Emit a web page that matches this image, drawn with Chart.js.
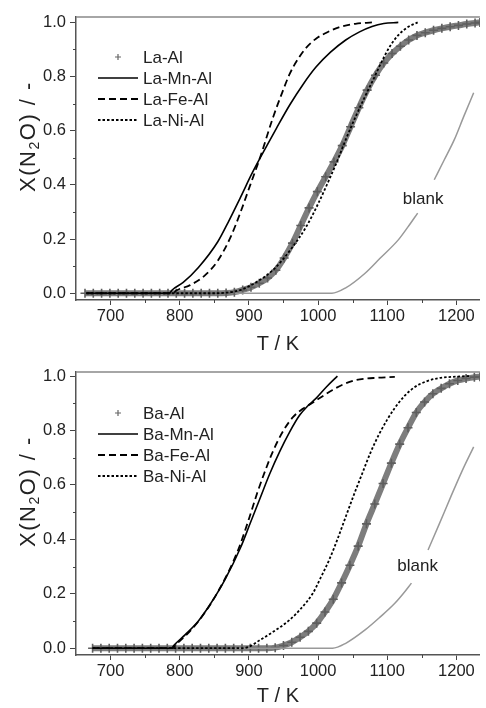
<!DOCTYPE html>
<html>
<head>
<meta charset="utf-8">
<script src="https://cdn.jsdelivr.net/npm/chart.js@4.4.0/dist/chart.umd.min.js"></script>
<style>
  body { margin: 0; background: #fff; }
  canvas { display: block; }
</style>
</head>
<body>
<canvas id="topChart" width="486" height="356"></canvas>
<canvas id="bottomChart" width="486" height="352"></canvas>
<script>
// ============================================
// DATA
// ============================================

// axis ticks
const xTicks = [700, 800, 900, 1000, 1100, 1200];
const xMinor = [750, 850, 950, 1050, 1150];
const yTicks = [0.0, 0.2, 0.4, 0.6, 0.8, 1.0];
const yMinor = [0.1, 0.3, 0.5, 0.7, 0.9];

// --- top panel: La catalysts ---
const laAlT = [663, 675, 687, 699, 711, 723, 735, 747, 759, 771, 783, 795, 807, 819, 831, 843, 855,
  867, 879, 891, 903, 915, 927, 939, 951, 963, 975, 987, 999, 1011, 1023, 1035, 1047, 1059, 1071,
  1083, 1095, 1107, 1119, 1131, 1143, 1155, 1167, 1179, 1191, 1203, 1215, 1227, 1234];
const laAlX = [0, 0, 0, 0, 0, 0, 0, 0, 0, 0, 0, 0, 0, 0, 0, 0, 0,
  0.001, 0.004, 0.012, 0.022, 0.037, 0.056, 0.085, 0.13, 0.185, 0.25, 0.315, 0.375, 0.43, 0.485, 0.545,
  0.615, 0.685, 0.75, 0.805, 0.85, 0.885, 0.912, 0.935, 0.952, 0.962, 0.971, 0.978, 0.984, 0.989,
  0.994, 0.998, 1.0];

const laMnT = [665, 785, 789, 805, 827, 855, 870, 888, 905, 926, 940, 959, 978, 997, 1018, 1040, 1060, 1078, 1095, 1116];
const laMnX = [0, 0, 0.012, 0.04, 0.095, 0.19, 0.262, 0.355, 0.445, 0.545, 0.61, 0.695, 0.77, 0.835, 0.89, 0.935, 0.965, 0.985, 0.996, 1.0];

const laFeT = [665, 790, 795, 815, 836, 855, 874, 888, 902, 916, 935, 948, 959, 971, 983, 997, 1012, 1030, 1054, 1078];
const laFeX = [0, 0, 0.01, 0.03, 0.065, 0.12, 0.21, 0.30, 0.40, 0.50, 0.65, 0.74, 0.81, 0.865, 0.907, 0.94, 0.962, 0.982, 0.995, 1.0];

const laNiT = [665, 850, 870, 888, 910, 935, 960, 983, 1000, 1016, 1028, 1040, 1054, 1068, 1080, 1092, 1104, 1116, 1130, 1144];
const laNiX = [0, 0, 0.003, 0.012, 0.04, 0.086, 0.16, 0.246, 0.33, 0.419, 0.49, 0.567, 0.65, 0.727, 0.79, 0.855, 0.912, 0.953, 0.983, 1.0];

const laBlankT = [880, 1020, 1040, 1068, 1090, 1116, 1130, 1144, 1156, 1168, 1182, 1197, 1211, 1225];
const laBlankX = [0, 0, 0.02, 0.074, 0.13, 0.197, 0.245, 0.296, null, 0.419, 0.49, 0.567, 0.655, 0.74];

// --- bottom panel: Ba catalysts ---
const baAlT = [674, 686, 698, 710, 722, 734, 746, 758, 770, 782, 794, 806, 818, 830, 842, 854, 866,
  878, 890, 902, 914, 926, 938, 950, 962, 974, 986, 998, 1010, 1022, 1034, 1046, 1058, 1070, 1082,
  1094, 1106, 1118, 1130, 1142, 1154, 1166, 1178, 1190, 1202, 1214, 1226, 1234];
const baAlX = [0, 0, 0, 0, 0, 0, 0, 0, 0, 0, 0, 0, 0, 0, 0, 0, 0,
  0, 0, 0, 0, 0, 0.002, 0.01, 0.022, 0.04, 0.062, 0.092, 0.133, 0.18, 0.24, 0.305, 0.375, 0.457,
  0.53, 0.605, 0.68, 0.75, 0.81, 0.866, 0.905, 0.935, 0.955, 0.972, 0.984, 0.991, 0.996, 0.998];

const baMnT = [674, 788, 792, 808, 827, 845, 865, 888, 902, 916, 930, 945, 959, 973, 985, 997, 1012, 1028];
const baMnX = [0, 0, 0.012, 0.05, 0.10, 0.165, 0.25, 0.37, 0.46, 0.55, 0.64, 0.725, 0.795, 0.855, 0.89, 0.918, 0.96, 1.0];

const baFeT = [674, 790, 794, 810, 828, 846, 866, 878, 888, 900, 912, 924, 935, 950, 964, 978, 992, 1006, 1021, 1037, 1054, 1080, 1111];
const baFeX = [0, 0, 0.012, 0.05, 0.102, 0.168, 0.258, 0.322, 0.385, 0.475, 0.57, 0.655, 0.725, 0.80, 0.85, 0.88, 0.902, 0.925, 0.949, 0.97, 0.985, 0.993, 0.997];

const baNiT = [674, 890, 900, 916, 935, 959, 975, 992, 1004, 1016, 1028, 1040, 1052, 1064, 1076, 1088, 1100, 1111, 1125, 1140, 1156, 1173, 1200, 1220];
const baNiX = [0, 0, 0.005, 0.03, 0.06, 0.104, 0.145, 0.20, 0.26, 0.324, 0.40, 0.483, 0.565, 0.643, 0.72, 0.785, 0.84, 0.883, 0.927, 0.96, 0.98, 0.992, 0.998, 1.0];

const baBlankT = [880, 1021, 1040, 1068, 1090, 1111, 1123, 1135, 1147, 1159, 1175, 1192, 1208, 1225];
const baBlankX = [0, 0, 0.018, 0.067, 0.115, 0.165, 0.2, 0.239, null, 0.361, 0.455, 0.557, 0.65, 0.74];

// ============================================
// HELPERS
// ============================================

const FONT = '"Liberation Sans", Arial, sans-serif';
const INK = '#222';

function pts(ts, xs) {
    return ts.map((t, i) => ({ x: t, y: xs[i] }));
}

function markerSet(label, ts, xs) {
    return {
        label: label, data: pts(ts, xs), kind: 'marker', order: 5,
        borderColor: '#7d7d7d', borderWidth: 6,
        pointStyle: 'cross', pointRadius: 4.5, pointBorderWidth: 1.6,
        pointBorderColor: '#5e5e5e', pointBackgroundColor: '#5e5e5e',
        cubicInterpolationMode: 'monotone'
    };
}

function lineSet(label, ts, xs, dash, width, order) {
    return {
        label: label, data: pts(ts, xs), kind: 'line', order: order,
        borderColor: '#000', borderWidth: width, borderDash: dash,
        pointRadius: 0, cubicInterpolationMode: 'monotone'
    };
}

function blankSet(ts, xs) {
    return {
        label: 'blank', data: pts(ts, xs), kind: 'blank', order: 4,
        borderColor: '#999', borderWidth: 1.5, pointRadius: 0,
        cubicInterpolationMode: 'monotone', spanGaps: false
    };
}

// Extra drawing: top frame, minor ticks, y title, legend, "blank" label
const decor = {
    id: 'decor',
    afterDraw(chart, args, opts) {
        const ctx = chart.ctx;
        const area = chart.chartArea;
        const xs = chart.scales.x;
        const ys = chart.scales.y;
        ctx.save();

        // top frame line
        ctx.strokeStyle = '#888';
        ctx.lineWidth = 1.5;
        ctx.beginPath();
        ctx.moveTo(area.left, area.top);
        ctx.lineTo(area.right, area.top);
        ctx.stroke();

        // minor ticks
        ctx.strokeStyle = '#444';
        ctx.lineWidth = 1;
        xMinor.forEach(v => {
            const px = Math.round(xs.getPixelForValue(v)) + 0.5;
            ctx.beginPath();
            ctx.moveTo(px, area.bottom);
            ctx.lineTo(px, area.bottom + 3);
            ctx.stroke();
        });
        yMinor.forEach(v => {
            const py = Math.round(ys.getPixelForValue(v)) + 0.5;
            ctx.beginPath();
            ctx.moveTo(area.left, py);
            ctx.lineTo(area.left - 3, py);
            ctx.stroke();
        });

        // y axis title with subscript
        ctx.fillStyle = INK;
        ctx.save();
        ctx.translate(29, (area.top + area.bottom) / 2 - 22);
        ctx.rotate(-Math.PI / 2);
        ctx.textBaseline = 'middle';
        ctx.letterSpacing = '1.5px';
        const parts = [
            { t: 'X(N', f: '22px ' + FONT, dy: 0 },
            { t: '2', f: '14px ' + FONT, dy: 6 },
            { t: 'O) / -', f: '22px ' + FONT, dy: 0 }
        ];
        let total = 0;
        parts.forEach(p => { ctx.font = p.f; p.w = ctx.measureText(p.t).width; total += p.w; });
        let cx = -total / 2;
        parts.forEach(p => {
            ctx.font = p.f;
            ctx.textAlign = 'left';
            ctx.fillText(p.t, cx, p.dy);
            cx += p.w;
        });
        ctx.restore();

        // legend
        ctx.font = '17px ' + FONT;
        ctx.textBaseline = 'middle';
        ctx.textAlign = 'left';
        let ly = opts.legendY;
        chart.data.datasets.forEach(ds => {
            if (ds.kind === 'blank') return;
            const x0 = area.left + 22, x1 = area.left + 62;
            if (ds.kind === 'marker') {
                const mx = (x0 + x1) / 2;
                ctx.strokeStyle = '#666';
                ctx.lineWidth = 1.2;
                ctx.setLineDash([]);
                ctx.beginPath();
                ctx.moveTo(mx - 3, ly); ctx.lineTo(mx + 3, ly);
                ctx.moveTo(mx, ly - 3); ctx.lineTo(mx, ly + 3);
                ctx.stroke();
            } else {
                ctx.strokeStyle = ds.borderColor;
                ctx.lineWidth = ds.borderWidth;
                ctx.setLineDash(ds.borderDash || []);
                ctx.beginPath();
                ctx.moveTo(x0, ly); ctx.lineTo(x1, ly);
                ctx.stroke();
            }
            ctx.setLineDash([]);
            ctx.fillStyle = INK;
            ctx.fillText(ds.label, x1 + 5, ly + 1);
            ly += 21;
        });

        // "blank" label
        ctx.font = '17px ' + FONT;
        ctx.textAlign = 'center';
        ctx.fillText('blank', xs.getPixelForValue(opts.blankAt[0]), ys.getPixelForValue(opts.blankAt[1]));

        ctx.restore();
    }
};

function makeChart(id, datasets, yMax, blankAt) {
    const canvas = document.getElementById(id);
    const h = canvas.height;
    return new Chart(canvas, {
        type: 'line',
        data: { datasets: datasets },
        plugins: [decor],
        options: {
            responsive: false,
            animation: false,
            events: [],
            layout: { padding: { top: id === 'topChart' ? 17 : 16, left: 0, right: 0, bottom: 0 } },
            plugins: {
                legend: { display: false },
                tooltip: { enabled: false },
                decor: { legendY: 57, blankAt: blankAt }
            },
            scales: {
                x: {
                    type: 'linear',
                    min: 650,
                    max: 1234,
                    afterBuildTicks: s => { s.ticks = xTicks.map(v => ({ value: v })); },
                    afterFit: s => { s.height = h - (id === 'topChart' ? 300 : 299); },
                    border: { display: true, color: '#555', width: 1.5 },
                    grid: { drawOnChartArea: false, tickLength: 5, color: '#444' },
                    ticks: {
                        color: INK, font: { family: FONT, size: 16.5 },
                        padding: 2, maxRotation: 0, autoSkip: false,
                        callback: v => String(v)
                    },
                    title: {
                        display: true, text: 'T / K', color: INK,
                        font: { family: FONT, size: 20 },
                        padding: { top: 0, bottom: 0 }
                    }
                },
                y: {
                    min: -0.025,
                    max: yMax,
                    afterBuildTicks: s => { s.ticks = yTicks.map(v => ({ value: v })); },
                    afterFit: s => { s.width = 76; },
                    border: { display: true, color: '#555', width: 1.5 },
                    grid: { drawOnChartArea: false, tickLength: 6, color: '#444' },
                    ticks: {
                        color: INK, font: { family: FONT, size: 16.5 },
                        padding: 4,
                        callback: v => v.toFixed(1)
                    }
                }
            }
        }
    });
}

document.addEventListener('DOMContentLoaded', function() {
    makeChart('topChart', [
        markerSet('La-Al', laAlT, laAlX),
        lineSet('La-Mn-Al', laMnT, laMnX, [], 1.6, 1),
        lineSet('La-Fe-Al', laFeT, laFeX, [7, 4], 1.8, 2),
        lineSet('La-Ni-Al', laNiT, laNiX, [2.5, 2], 1.8, 3),
        blankSet(laBlankT, laBlankX)
    ], 1.02, [1152, 0.348]);

    makeChart('bottomChart', [
        markerSet('Ba-Al', baAlT, baAlX),
        lineSet('Ba-Mn-Al', baMnT, baMnX, [], 1.6, 1),
        lineSet('Ba-Fe-Al', baFeT, baFeX, [7, 4], 1.8, 2),
        lineSet('Ba-Ni-Al', baNiT, baNiX, [2.5, 2], 1.8, 3),
        blankSet(baBlankT, baBlankX)
    ], 1.015, [1144, 0.30]);
});
</script>
</body>
</html>
